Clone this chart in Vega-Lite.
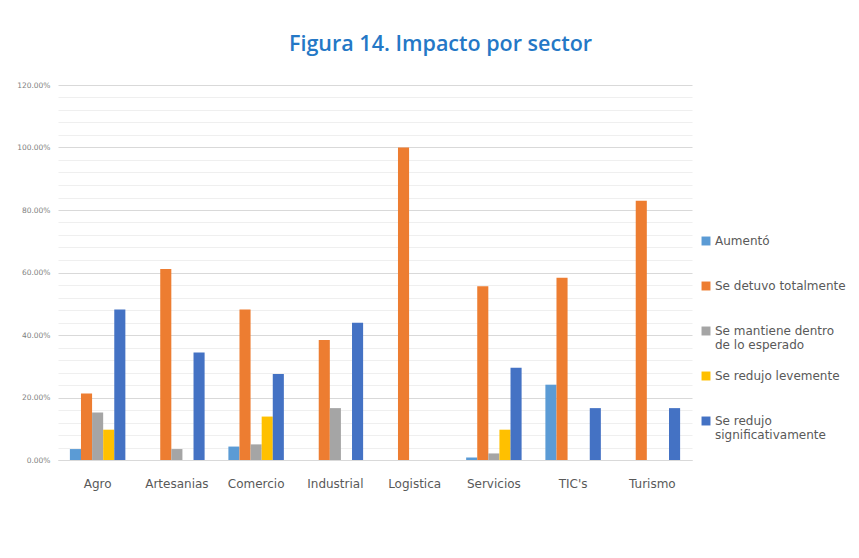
{
  "$schema": "https://vega.github.io/schema/vega-lite/v6.json",
  "width": 634,
  "height": 375,
  "autosize": "none",
  "padding": {"left": 58, "top": 85, "right": 167, "bottom": 98},
  "background": "white",
  "title": {
    "text": "Figura 14. Impacto por sector",
    "anchor": "start",
    "frame": "group",
    "dx": 231,
    "offset": 26,
    "font": "Open Sans",
    "fontSize": 21.5,
    "fontWeight": 600,
    "color": "#2478C6"
  },
  "data": {
    "values": [
      {"sector": "Agro", "impacto": "Aumentó", "valor": 0.035},
      {"sector": "Agro", "impacto": "Se detuvo totalmente", "valor": 0.213},
      {"sector": "Agro", "impacto": "Se mantiene dentro de lo esperado", "valor": 0.152},
      {"sector": "Agro", "impacto": "Se redujo levemente", "valor": 0.097},
      {"sector": "Agro", "impacto": "Se redujo significativamente", "valor": 0.482},
      {"sector": "Artesanias", "impacto": "Aumentó", "valor": 0},
      {"sector": "Artesanias", "impacto": "Se detuvo totalmente", "valor": 0.611},
      {"sector": "Artesanias", "impacto": "Se mantiene dentro de lo esperado", "valor": 0.035},
      {"sector": "Artesanias", "impacto": "Se redujo levemente", "valor": 0},
      {"sector": "Artesanias", "impacto": "Se redujo significativamente", "valor": 0.344},
      {"sector": "Comercio", "impacto": "Aumentó", "valor": 0.043},
      {"sector": "Comercio", "impacto": "Se detuvo totalmente", "valor": 0.482},
      {"sector": "Comercio", "impacto": "Se mantiene dentro de lo esperado", "valor": 0.05},
      {"sector": "Comercio", "impacto": "Se redujo levemente", "valor": 0.139},
      {"sector": "Comercio", "impacto": "Se redujo significativamente", "valor": 0.275},
      {"sector": "Industrial", "impacto": "Aumentó", "valor": 0},
      {"sector": "Industrial", "impacto": "Se detuvo totalmente", "valor": 0.384},
      {"sector": "Industrial", "impacto": "Se mantiene dentro de lo esperado", "valor": 0.166},
      {"sector": "Industrial", "impacto": "Se redujo levemente", "valor": 0},
      {"sector": "Industrial", "impacto": "Se redujo significativamente", "valor": 0.439},
      {"sector": "Logistica", "impacto": "Aumentó", "valor": 0},
      {"sector": "Logistica", "impacto": "Se detuvo totalmente", "valor": 1.0},
      {"sector": "Logistica", "impacto": "Se mantiene dentro de lo esperado", "valor": 0},
      {"sector": "Logistica", "impacto": "Se redujo levemente", "valor": 0},
      {"sector": "Logistica", "impacto": "Se redujo significativamente", "valor": 0},
      {"sector": "Servicios", "impacto": "Aumentó", "valor": 0.008},
      {"sector": "Servicios", "impacto": "Se detuvo totalmente", "valor": 0.556},
      {"sector": "Servicios", "impacto": "Se mantiene dentro de lo esperado", "valor": 0.021},
      {"sector": "Servicios", "impacto": "Se redujo levemente", "valor": 0.097},
      {"sector": "Servicios", "impacto": "Se redujo significativamente", "valor": 0.295},
      {"sector": "TIC's", "impacto": "Aumentó", "valor": 0.241},
      {"sector": "TIC's", "impacto": "Se detuvo totalmente", "valor": 0.583},
      {"sector": "TIC's", "impacto": "Se mantiene dentro de lo esperado", "valor": 0},
      {"sector": "TIC's", "impacto": "Se redujo levemente", "valor": 0},
      {"sector": "TIC's", "impacto": "Se redujo significativamente", "valor": 0.166},
      {"sector": "Turismo", "impacto": "Aumentó", "valor": 0},
      {"sector": "Turismo", "impacto": "Se detuvo totalmente", "valor": 0.83},
      {"sector": "Turismo", "impacto": "Se mantiene dentro de lo esperado", "valor": 0},
      {"sector": "Turismo", "impacto": "Se redujo levemente", "valor": 0},
      {"sector": "Turismo", "impacto": "Se redujo significativamente", "valor": 0.166}
    ]
  },
  "mark": {"type": "bar"},
  "encoding": {
    "x": {
      "field": "sector",
      "type": "nominal",
      "sort": null,
      "scale": {"paddingInner": 0.3, "paddingOuter": 0.15},
      "axis": {
        "title": null,
        "labelAngle": 0,
        "ticks": false,
        "domainColor": "#d9d9d9",
        "labelColor": "#595959",
        "labelFont": "DejaVu Sans",
        "labelFontSize": 12,
        "labelPadding": 18,
        "grid": false
      }
    },
    "xOffset": {
      "field": "impacto",
      "type": "nominal",
      "scale": {
        "domain": ["Aumentó", "Se detuvo totalmente", "Se mantiene dentro de lo esperado", "Se redujo levemente", "Se redujo significativamente"],
        "paddingInner": 0,
        "paddingOuter": 0
      }
    },
    "y": {
      "field": "valor",
      "type": "quantitative",
      "scale": {"domain": [0, 1.2], "nice": false},
      "axis": {
        "title": null,
        "values": [0, 0.04, 0.08, 0.12, 0.16, 0.2, 0.24, 0.28, 0.32, 0.36, 0.4, 0.44, 0.48, 0.52, 0.56, 0.6, 0.64, 0.68, 0.72, 0.76, 0.8, 0.84, 0.88, 0.92, 0.96, 1.0, 1.04, 1.08, 1.12, 1.16, 1.2],
        "format": ".2%",
        "labelExpr": "round(datum.value*100) % 20 == 0 ? datum.label : ''",
        "ticks": false,
        "domain": false,
        "labelFont": "DejaVu Sans",
        "labelFontSize": 7.5,
        "labelColor": "#7f7f7f",
        "labelPadding": 8,
        "gridColor": {"condition": {"test": "round(datum.value*100) % 20 == 0", "value": "#d9d9d9"}, "value": "#efefef"},
        "gridWidth": 1
      }
    },
    "color": {
      "field": "impacto",
      "type": "nominal",
      "scale": {
        "domain": ["Aumentó", "Se detuvo totalmente", "Se mantiene dentro de lo esperado", "Se redujo levemente", "Se redujo significativamente"],
        "range": ["#5B9BD5", "#ED7D31", "#A5A5A5", "#FFC000", "#4472C4"]
      },
      "legend": {
        "title": null,
        "orient": "none",
        "legendX": 642,
        "legendY": 150,
        "symbolType": "square",
        "symbolSize": 80,
        "symbolStrokeWidth": 0,
        "labelFont": "DejaVu Sans",
        "labelFontSize": 12,
        "labelColor": "#595959",
        "labelOffset": 3,
        "labelLimit": 300,
        "rowPadding": 19,
        "labelExpr": "datum.label == 'Se mantiene dentro de lo esperado' ? ['Se mantiene dentro', 'de lo esperado'] : datum.label == 'Se redujo significativamente' ? ['Se redujo', 'significativamente'] : [datum.label, ' ']"
      }
    }
  },
  "config": {
    "view": {"stroke": null}
  }
}
